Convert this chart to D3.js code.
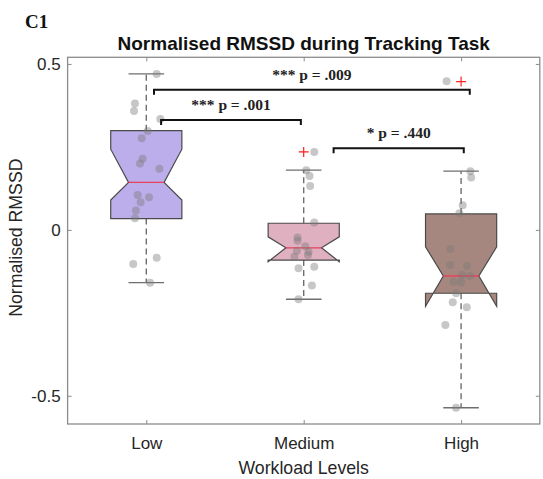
<!DOCTYPE html>
<html>
<head>
<meta charset="utf-8">
<script src="https://cdn.jsdelivr.net/npm/d3@7"></script>
<style>
  body { margin: 0; background: #fff; }
  svg { display: block; }
</style>
</head>
<body>
<div id="wrapper"></div>
<script>
// box statistics
const categories = ["Low", "Medium", "High"];
const q1 = [0.034, -0.091, -0.191];
const median = [0.143, -0.054, -0.139];
const q3 = [0.299, 0.020, 0.048];
const notchLo = [0.090, -0.096, -0.230];
const notchHi = [0.243, -0.021, -0.051];
const whiskerLo = [-0.159, -0.209, -0.536];
const whiskerHi = [0.470, 0.180, 0.177];
const outliers = [[], [0.235], [0.447]];
const boxColors = ["#bcaeea", "#dfb0c0", "#a5877f"];

// jittered raw points: [x offset, value]
const lowPoints = [[0.066, 0.470], [-0.072, 0.381], [-0.078, 0.358], [0.089, 0.334], [0.009, 0.298],
  [-0.029, 0.276], [-0.023, 0.214], [-0.040, 0.200], [0.083, 0.184], [-0.055, 0.105],
  [0.017, 0.098], [-0.036, 0.083], [-0.066, 0.058], [-0.072, 0.035], [0.066, -0.084],
  [-0.083, -0.103], [0.024, -0.159]];
const mediumPoints = [[0.067, 0.235], [0.016, 0.180], [0.037, 0.162], [0.041, 0.132], [0.067, 0.022],
  [-0.039, -0.023], [-0.039, -0.033], [0.010, -0.049], [-0.043, -0.063], [0.031, -0.066],
  [-0.059, -0.081], [0.027, -0.076], [-0.033, -0.116], [0.067, -0.111], [0.052, -0.168],
  [-0.033, -0.209]];
const highPoints = [[-0.092, 0.448], [0.059, 0.177], [0.064, 0.158], [0.010, 0.074], [-0.011, 0.050],
  [-0.068, -0.058], [-0.070, -0.106], [0.038, -0.109], [0.006, -0.136], [0.057, -0.139],
  [-0.047, -0.156], [0, -0.158], [-0.032, -0.191], [-0.053, -0.218], [0.036, -0.233],
  [-0.100, -0.287], [-0.032, -0.536]];
const points = [lowPoints, mediumPoints, highPoints];

// significance brackets: [x1, x2, y, label]
const brackets = [
  [1.049, 3.055, 0.422, "*** p = .009"],
  [1.094, 1.982, 0.331, "*** p = .001"],
  [2.190, 3.017, 0.246, "* p = .440"]
];
const yTicks = [-0.5, 0, 0.5];
const yTickLabels = ["-0.5", "0", "0.5"];

const width = 543, height = 479;
const svg = d3.select("#wrapper").append("svg")
    .attr("width", width)
    .attr("height", height);

const xScaler = d3.scaleLinear().domain([0.5, 3.5]).range([67.6, 539.8]);
const yScaler = d3.scaleLinear().domain([-0.585, 0.52]).range([424, 57.3]);
const plotLeft = xScaler.range()[0], plotRight = xScaler.range()[1];
const plotTop = yScaler.range()[1], plotBottom = yScaler.range()[0];

const halfW = 0.226;
const axisColor = "#8c8c8c";
const textColor = "#262626";

// axes box
svg.append("rect")
    .attr("x", plotLeft).attr("y", plotTop)
    .attr("width", plotRight - plotLeft).attr("height", plotBottom - plotTop)
    .attr("fill", "none").attr("stroke", axisColor).attr("stroke-width", 1.3);

const xAxis = d3.axisBottom(xScaler).tickValues([1, 2, 3])
    .tickFormat((d, i) => categories[i]).tickSizeInner(-4).tickSizeOuter(0).tickPadding(13);
const yAxis = d3.axisLeft(yScaler).tickValues(yTicks)
    .tickFormat((d, i) => yTickLabels[i]).tickSizeInner(-4).tickSizeOuter(0).tickPadding(7);

svg.append("g").attr("transform", `translate(0, ${plotBottom})`).call(xAxis)
    .call(g => g.select(".domain").remove())
    .call(g => g.selectAll("line").attr("stroke", axisColor))
    .call(g => g.selectAll("text").attr("font-family", "Liberation Sans, Arial, sans-serif")
        .attr("font-size", 17).attr("fill", textColor));
svg.append("g").attr("transform", `translate(${plotLeft}, 0)`).call(yAxis)
    .call(g => g.select(".domain").remove())
    .call(g => g.selectAll("line").attr("stroke", axisColor))
    .call(g => g.selectAll("text").attr("font-family", "Liberation Sans, Arial, sans-serif")
        .attr("font-size", 17).attr("fill", textColor));
// mirrored ticks on top and right
svg.append("g").attr("transform", `translate(0, ${plotTop})`)
    .call(d3.axisTop(xScaler).tickValues([1, 2, 3]).tickSizeInner(-4).tickSizeOuter(0).tickFormat(""))
    .call(g => g.select(".domain").remove())
    .call(g => g.selectAll("line").attr("stroke", axisColor));
svg.append("g").attr("transform", `translate(${plotRight}, 0)`)
    .call(d3.axisRight(yScaler).tickValues(yTicks).tickSizeInner(-4).tickSizeOuter(0).tickFormat(""))
    .call(g => g.select(".domain").remove())
    .call(g => g.selectAll("line").attr("stroke", axisColor));

// boxes
categories.forEach((c, i) => {
  const cx = i + 1;
  const g = svg.append("g");
  const wl = xScaler(cx - halfW), wr = xScaler(cx + halfW);
  const nl = xScaler(cx - halfW / 2), nr = xScaler(cx + halfW / 2);

  // dashed whiskers
  g.append("line")
      .attr("x1", xScaler(cx)).attr("x2", xScaler(cx))
      .attr("y1", yScaler(q3[i])).attr("y2", yScaler(whiskerHi[i]))
      .attr("stroke", "#6e6e6e").attr("stroke-width", 1.4).attr("stroke-dasharray", "6,4");
  g.append("line")
      .attr("x1", xScaler(cx)).attr("x2", xScaler(cx))
      .attr("y1", yScaler(q1[i])).attr("y2", yScaler(whiskerLo[i]))
      .attr("stroke", "#6e6e6e").attr("stroke-width", 1.4).attr("stroke-dasharray", "6,4");
  [whiskerHi[i], whiskerLo[i]].forEach(v => {
    g.append("line")
        .attr("x1", nl).attr("x2", nr)
        .attr("y1", yScaler(v)).attr("y2", yScaler(v))
        .attr("stroke", "#6e6e6e").attr("stroke-width", 1.4);
  });

  const outline = [
    [wl, yScaler(q1[i])], [wl, yScaler(notchLo[i])], [nl, yScaler(median[i])],
    [wl, yScaler(notchHi[i])], [wl, yScaler(q3[i])], [wr, yScaler(q3[i])],
    [wr, yScaler(notchHi[i])], [nr, yScaler(median[i])], [wr, yScaler(notchLo[i])],
    [wr, yScaler(q1[i])]
  ];
  g.append("path")
      .attr("d", d3.line()(outline) + "Z")
      .attr("fill", boxColors[i])
      .attr("stroke", "#4a4a4a").attr("stroke-width", 1.2);

  g.append("line")
      .attr("x1", nl).attr("x2", nr)
      .attr("y1", yScaler(median[i])).attr("y2", yScaler(median[i]))
      .attr("stroke", "#e8415a").attr("stroke-width", 1.3);

  outliers[i].forEach(v => {
    const ox = xScaler(cx), oy = yScaler(v);
    g.append("path")
        .attr("d", `M${ox - 5},${oy}H${ox + 5}M${ox},${oy - 5}V${oy + 5}`)
        .attr("stroke", "#ff2020").attr("stroke-width", 1.2);
  });
});

// raw points
categories.forEach((c, i) => {
  svg.append("g").selectAll("circle")
      .data(points[i])
      .join("circle")
      .attr("cx", d => xScaler(i + 1 + d[0]))
      .attr("cy", d => yScaler(d[1]))
      .attr("r", 4)
      .attr("fill", "#7a7a7a")
      .attr("fill-opacity", 0.42);
});

// significance brackets
brackets.forEach(b => {
  const x1 = xScaler(b[0]), x2 = xScaler(b[1]), yy = yScaler(b[2]);
  svg.append("path")
      .attr("d", `M${x1},${yy + 5}V${yy}H${x2}V${yy + 5}`)
      .attr("fill", "none").attr("stroke", "#111").attr("stroke-width", 2);
  svg.append("text")
      .attr("x", (x1 + x2) / 2).attr("y", yy - 10)
      .attr("text-anchor", "middle")
      .attr("font-family", "Liberation Serif, Times New Roman, serif")
      .attr("font-weight", "bold").attr("font-size", 15.5)
      .attr("fill", "#222")
      .text(b[3]);
});

// titles and labels
svg.append("text")
    .attr("x", (plotLeft + plotRight) / 2).attr("y", 49.5)
    .attr("text-anchor", "middle")
    .attr("font-family", "Liberation Sans, Arial, sans-serif")
    .attr("font-weight", "bold").attr("font-size", 19)
    .attr("fill", "#111")
    .text("Normalised RMSSD during Tracking Task");

svg.append("text")
    .attr("x", (plotLeft + plotRight) / 2).attr("y", 474)
    .attr("text-anchor", "middle")
    .attr("font-family", "Liberation Sans, Arial, sans-serif")
    .attr("font-size", 17.7).attr("fill", textColor)
    .text("Workload Levels");

svg.append("text")
    .attr("transform", `translate(21.5, ${(plotTop + plotBottom) / 2 - 3}) rotate(-90)`)
    .attr("text-anchor", "middle")
    .attr("font-family", "Liberation Sans, Arial, sans-serif")
    .attr("font-size", 17.7).attr("fill", textColor)
    .text("Normalised RMSSD");

svg.append("text")
    .attr("x", 25).attr("y", 28)
    .attr("font-family", "Liberation Serif, Times New Roman, serif")
    .attr("font-weight", "bold").attr("font-size", 19)
    .attr("fill", "#111")
    .text("C1");
</script>
</body>
</html>
